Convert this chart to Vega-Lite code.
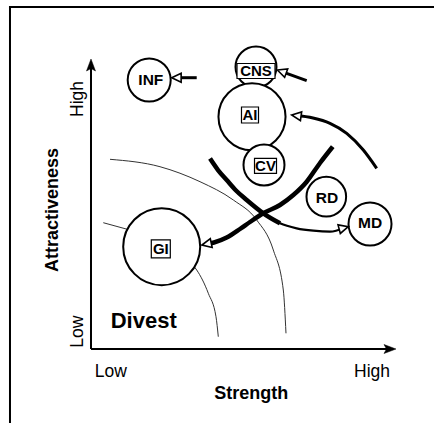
{
  "$schema": "https://vega.github.io/schema/vega-lite/v6.json",
  "width": 434,
  "height": 423,
  "autosize": "none",
  "padding": 0,
  "background": "white",
  "config": {"view": {"stroke": null}, "font": "Liberation Sans"},
  "datasets": {
    "frame": [
      {"x": -26.56, "y": -25.5, "x2": -26.56, "y2": 117.93},
      {"x": -26.56, "y": 117.93, "x2": 112.46, "y2": 117.93}
    ],
    "axes": [
      {"x": 0, "y": 0, "x2": 0, "y2": 98},
      {"x": 0, "y": 0, "x2": 98, "y2": 0}
    ],
    "axisheads": [
      {"x": 0, "y": 100, "heading": 0},
      {"x": 100, "y": 0, "heading": 90}
    ],
    "arcs": [
      {"seg": "outer", "x": 6.23, "y": 65.41},
      {"seg": "outer", "x": 22.62, "y": 62.86},
      {"seg": "outer", "x": 35.74, "y": 57.69},
      {"seg": "outer", "x": 46.66, "y": 51.38},
      {"seg": "outer", "x": 54.33, "y": 44.48},
      {"seg": "outer", "x": 59.77, "y": 34.14},
      {"seg": "outer", "x": 63.05, "y": 20.34},
      {"seg": "outer", "x": 63.93, "y": 5.41},
      {"seg": "innerA", "x": 4.03, "y": 43.55},
      {"seg": "innerA", "x": 12.13, "y": 41.21},
      {"seg": "innerB", "x": 33.11, "y": 29.31},
      {"seg": "innerB", "x": 34.66, "y": 27.24},
      {"seg": "innerB", "x": 38.46, "y": 19.21},
      {"seg": "innerB", "x": 40.98, "y": 11.14},
      {"seg": "innerB", "x": 41.74, "y": 4.24}
    ],
    "curves": [
      {"curve": "toGI", "x": 79.25, "y": 69.76},
      {"curve": "toGI", "x": 75.08, "y": 64.14},
      {"curve": "toGI", "x": 70.72, "y": 57.69},
      {"curve": "toGI", "x": 66.33, "y": 53.1},
      {"curve": "toGI", "x": 61.97, "y": 49.66},
      {"curve": "toGI", "x": 56.49, "y": 46.79},
      {"curve": "toGI", "x": 52.13, "y": 43.79},
      {"curve": "toGI", "x": 48.85, "y": 41.38},
      {"curve": "toGI", "x": 44.49, "y": 38.45},
      {"curve": "toGI", "x": 40.33, "y": 36.72},
      {"curve": "toGI", "x": 37.97, "y": 36.21},
      {"curve": "toMDa", "x": 39.02, "y": 65.69},
      {"curve": "toMDa", "x": 41.64, "y": 61.72},
      {"curve": "toMDa", "x": 44.49, "y": 58.28},
      {"curve": "toMDa", "x": 47.54, "y": 54.66},
      {"curve": "toMDa", "x": 51.05, "y": 51.38},
      {"curve": "toMDa", "x": 56.49, "y": 46.79},
      {"curve": "toMDa", "x": 61.97, "y": 43.34},
      {"curve": "toMDb", "x": 56.49, "y": 46.79},
      {"curve": "toMDb", "x": 61.97, "y": 43.34},
      {"curve": "toMDb", "x": 67.44, "y": 41.62},
      {"curve": "toMDb", "x": 72.89, "y": 40.79},
      {"curve": "toMDb", "x": 78.36, "y": 40.45},
      {"curve": "toMDb", "x": 83.08, "y": 41.83},
      {"curve": "toAI", "x": 93.67, "y": 62.31},
      {"curve": "toAI", "x": 89.28, "y": 68.62},
      {"curve": "toAI", "x": 83.84, "y": 74.38},
      {"curve": "toAI", "x": 78.36, "y": 77.83},
      {"curve": "toAI", "x": 72.79, "y": 79.66},
      {"curve": "toAI", "x": 67.11, "y": 80.48},
      {"curve": "toINF", "x": 34.66, "y": 93.55},
      {"curve": "toINF", "x": 27.77, "y": 93.55},
      {"curve": "toCNS", "x": 70.72, "y": 92.52},
      {"curve": "toCNS", "x": 62.33, "y": 95.72}
    ],
    "heads": [
      {"target": "INF", "x": 26.46, "y": 93.55, "heading": 270},
      {"target": "CNS", "x": 61.08, "y": 96.21, "heading": 290},
      {"target": "AI", "x": 65.8, "y": 80.69, "heading": 278},
      {"target": "GI", "x": 36.39, "y": 35.86, "heading": 258},
      {"target": "MD", "x": 84.36, "y": 42.17, "heading": 75}
    ],
    "bubbles": [
      {"unit": "INF", "x": 19.08, "y": 92.76, "share": 18.5},
      {"unit": "CNS", "x": 54.1, "y": 97.24, "share": 16.8},
      {"unit": "AI", "x": 52.79, "y": 80.1, "share": 45},
      {"unit": "CV", "x": 56.72, "y": 63.45, "share": 16.8},
      {"unit": "RD", "x": 77.15, "y": 52.52, "share": 15.7},
      {"unit": "MD", "x": 91.48, "y": 43.1, "share": 18.5},
      {"unit": "GI", "x": 23.18, "y": 35.28, "share": 59.3}
    ],
    "boxes": [
      {"unit": "CNS", "x": 47.87, "x2": 60.33, "y": 98.45, "y2": 93.28},
      {"unit": "AI", "x": 49.34, "x2": 54.92, "y": 83.45, "y2": 77.93},
      {"unit": "CV", "x": 53.61, "x2": 60.82, "y": 65.76, "y2": 60.59},
      {"unit": "GI", "x": 19.77, "x2": 26.0, "y": 37.66, "y2": 31.45}
    ],
    "plainlabels": [
      {"label": "INF", "x": 19.61, "y": 92.76},
      {"label": "RD", "x": 77.38, "y": 52.07},
      {"label": "MD", "x": 91.48, "y": 43.28}
    ],
    "boxlabels": [
      {"label": "CNS", "x": 54.1, "y": 95.86},
      {"label": "AI", "x": 52.13, "y": 80.69},
      {"label": "CV", "x": 57.21, "y": 63.17},
      {"label": "GI", "x": 22.89, "y": 34.55}
    ]
  },
  "encoding": {
    "x": {"field": "x", "type": "quantitative", "scale": {"domain": [-29.836, 112.459], "nice": false, "zero": false}, "axis": null},
    "y": {"field": "y", "type": "quantitative", "scale": {"domain": [-25.517, 120.345], "nice": false, "zero": false}, "axis": null}
  },
  "layer": [
    {
      "data": {"name": "frame"},
      "mark": {"type": "rule", "color": "black", "strokeWidth": 2, "strokeCap": "square"},
      "encoding": {"x2": {"field": "x2"}, "y2": {"field": "y2"}}
    },
    {
      "data": {"name": "arcs"},
      "mark": {"type": "line", "interpolate": "monotone", "color": "#333333", "strokeWidth": 1},
      "encoding": {"detail": {"field": "seg"}}
    },
    {
      "data": {"name": "axes"},
      "mark": {"type": "rule", "color": "black", "strokeWidth": 2},
      "encoding": {"x2": {"field": "x2"}, "y2": {"field": "y2"}}
    },
    {
      "data": {"name": "axisheads"},
      "mark": {"type": "point", "shape": "M0,0L1.8,4.8L0,3.8L-1.8,4.8Z", "filled": true, "fill": "black", "stroke": "black", "strokeWidth": 0.5, "size": 25, "opacity": 1},
      "encoding": {"angle": {"field": "heading", "type": "quantitative", "scale": null}}
    },
    {
      "data": {"name": "bubbles"},
      "mark": {"type": "point", "shape": "circle", "filled": true, "fill": "white", "stroke": "black", "strokeWidth": 2, "opacity": 1},
      "encoding": {
        "size": {"field": "share", "type": "quantitative", "scale": {"type": "linear", "domain": [0, 100], "range": [0, 10000], "zero": true}, "legend": null}
      }
    },
    {
      "data": {"name": "curves"},
      "transform": [{"filter": "datum.curve === 'toGI' || datum.curve === 'toMDa'"}],
      "mark": {"type": "line", "interpolate": "monotone", "color": "black", "strokeWidth": 4.5},
      "encoding": {"detail": {"field": "curve"}}
    },
    {
      "data": {"name": "curves"},
      "transform": [{"filter": "datum.curve === 'toAI' || datum.curve === 'toINF' || datum.curve === 'toCNS'"}],
      "mark": {"type": "line", "interpolate": "monotone", "color": "black", "strokeWidth": 3},
      "encoding": {"detail": {"field": "curve"}}
    },
    {
      "data": {"name": "curves"},
      "transform": [{"filter": "datum.curve === 'toMDb'"}],
      "mark": {"type": "line", "interpolate": "monotone", "color": "black", "strokeWidth": 2.3},
      "encoding": {"detail": {"field": "curve"}}
    },
    {
      "data": {"name": "heads"},
      "mark": {"type": "point", "shape": "M0,0L0.85,1.8L-0.85,1.8Z", "filled": true, "fill": "white", "stroke": "black", "strokeWidth": 1.6, "size": 110, "opacity": 1},
      "encoding": {"angle": {"field": "heading", "type": "quantitative", "scale": null}}
    },
    {
      "data": {"name": "boxes"},
      "mark": {"type": "rect", "fill": "white", "stroke": "black", "strokeWidth": 1.2},
      "encoding": {"x2": {"field": "x2"}, "y2": {"field": "y2"}}
    },
    {
      "data": {"name": "plainlabels"},
      "mark": {"type": "text", "font": "Liberation Sans", "fontWeight": "bold", "fontSize": 15.5, "color": "black", "align": "center", "baseline": "middle"},
      "encoding": {"text": {"field": "label"}}
    },
    {
      "data": {"name": "boxlabels"},
      "mark": {"type": "text", "font": "Liberation Sans", "fontWeight": "bold", "fontSize": 15, "color": "black", "align": "center", "baseline": "middle"},
      "encoding": {"text": {"field": "label"}}
    },
    {
      "data": {"values": [{"label": "High", "x": -4.26, "y": 86.21}, {"label": "Low", "x": -4.16, "y": 5.97}]},
      "mark": {"type": "text", "font": "Liberation Sans", "fontSize": 17.5, "color": "black", "align": "center", "baseline": "middle", "angle": 270},
      "encoding": {"text": {"field": "label"}}
    },
    {
      "data": {"values": [{"label": "Low", "x": 6.49, "y": -8.1}, {"label": "High", "x": 92.13, "y": -7.76}]},
      "mark": {"type": "text", "font": "Liberation Sans", "fontSize": 17.5, "color": "black", "align": "center", "baseline": "middle"},
      "encoding": {"text": {"field": "label"}}
    },
    {
      "data": {"values": [{"label": "Strength", "x": 52.56, "y": -15.52}]},
      "mark": {"type": "text", "font": "Liberation Sans", "fontWeight": "bold", "fontSize": 18, "color": "black", "align": "center", "baseline": "middle"},
      "encoding": {"text": {"field": "label"}}
    },
    {
      "data": {"values": [{"label": "Attractiveness", "x": -12.3, "y": 47.93}]},
      "mark": {"type": "text", "font": "Liberation Sans", "fontWeight": "bold", "fontSize": 18, "color": "black", "align": "center", "baseline": "middle", "angle": 270},
      "encoding": {"text": {"field": "label"}}
    },
    {
      "data": {"values": [{"label": "Divest", "x": 17.28, "y": 9.66}]},
      "mark": {"type": "text", "font": "Liberation Sans", "fontWeight": "bold", "fontSize": 22, "color": "black", "align": "center", "baseline": "middle"},
      "encoding": {"text": {"field": "label"}}
    }
  ]
}
